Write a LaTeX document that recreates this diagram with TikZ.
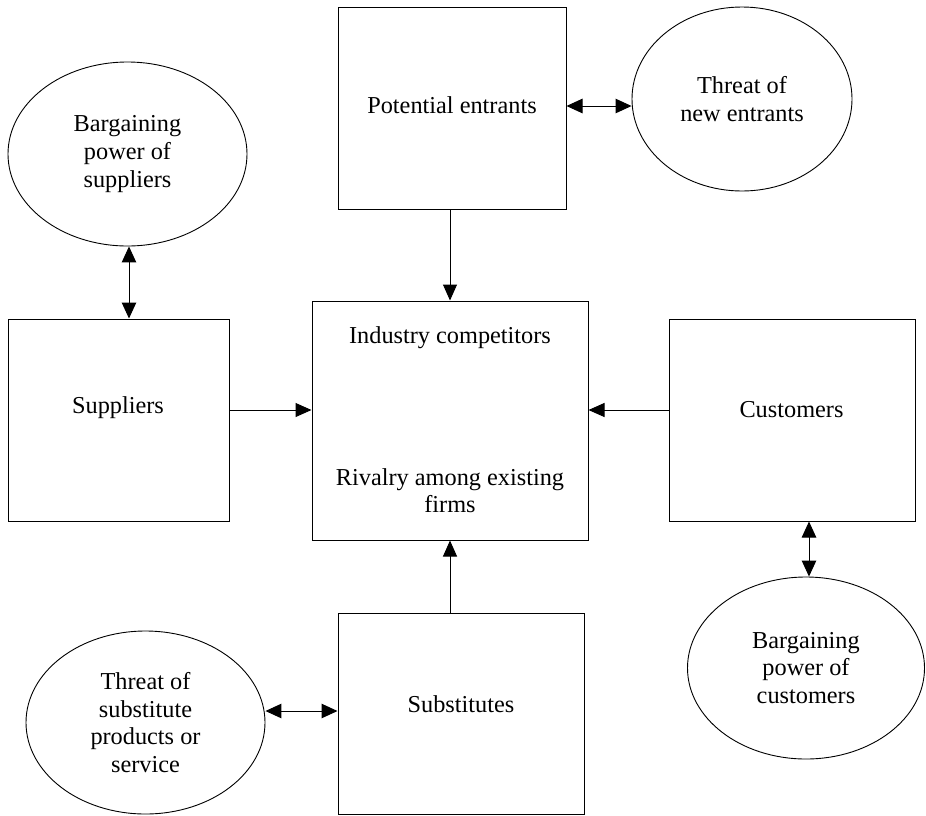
\documentclass[tikz,border=0pt]{standalone}
\usepackage{fontspec}
\setmainfont{Liberation Serif}
\usetikzlibrary{arrows.meta,shapes.geometric}
\begin{document}
\begin{tikzpicture}[x=1pt,y=-1pt,
  every node/.style={font=\fontsize{24.3}{27.7}\selectfont},
  box/.style={draw,line width=1pt,rectangle,inner sep=0pt},
  bubble/.style={draw,line width=0.9pt,ellipse,inner sep=0pt,align=center},
  txt/.style={anchor=base,inner sep=0pt},
  tip/.style={Triangle[length=16pt,width=14.5pt]},
  conn/.style={line width=1pt,-{Triangle[length=16pt,width=14pt]}},
  both/.style={line width=1pt,{Triangle[length=16pt,width=14.5pt]}-{Triangle[length=16pt,width=14.5pt]}}]
\useasboundingbox (0,0) rectangle (926,815);

% central forces
\node[box,minimum width=228pt,minimum height=202pt] (pe)  at (452,108)   {};
\node[box,minimum width=276pt,minimum height=239pt] (ind) at (450,420.5) {};
\node[box,minimum width=221pt,minimum height=202pt] (sup) at (118.5,420) {};
\node[box,minimum width=246pt,minimum height=202pt] (cus) at (792,420)   {};
\node[box,minimum width=246pt,minimum height=201pt] (sub) at (461,713.5) {};

\node[txt] (petxt)  at (452,113)   {Potential entrants};
\node[txt] (indtxt) at (450,343)   {Industry competitors};
\node[txt] (rivtxt) at (450,485)   {Rivalry among existing};
\node[txt] (firtxt) at (450,512)   {firms};
\node[txt] (suptxt) at (118,413)   {Suppliers};
\node[txt] (custxt) at (791.5,417) {Customers};
\node[txt] (subtxt) at (461,712)   {Substitutes};

% threats and bargaining powers
\node[bubble,minimum width=239pt,minimum height=184pt] (bps) at (127.5,154) {Bargaining\\power of\\suppliers};
\node[bubble,minimum width=220pt,minimum height=184pt] (tne) at (742,99)    {Threat of\\new entrants};
\node[bubble,minimum width=239pt,minimum height=183pt] (tsp) at (145.5,722.5) {Threat of\\substitute\\products or\\service};
\node[bubble,minimum width=237pt,minimum height=182pt] (bpc) at (806,668)   {Bargaining\\power of\\customers};

% one-way influences on the industry
\draw[conn] (ind.north |- pe.south) -- (ind.north);
\draw[conn] (ind.south |- sub.north) -- (ind.south);
\draw[conn] ([yshift=10pt]sup.east) -- ([yshift=10pt]sup.east -| ind.west);
\draw[conn] ([yshift=10pt]cus.west) -- ([yshift=10pt]cus.west -| ind.east);

% two-way links to the forces
\draw[both] ([xshift=1.5pt]bps.south) -- ([xshift=1.5pt]bps.south |- sup.north);
\draw[both] ([yshift=2pt]pe.east) -- ([yshift=2pt]pe.east -| tne.west);
\draw[both] ([yshift=2.5pt]sub.west) -- ([yshift=2.5pt]sub.west -| tsp.east);
\draw[both] ([xshift=3pt]bpc.north) -- ([xshift=3pt]bpc.north |- cus.south);
\end{tikzpicture}
\end{document}
